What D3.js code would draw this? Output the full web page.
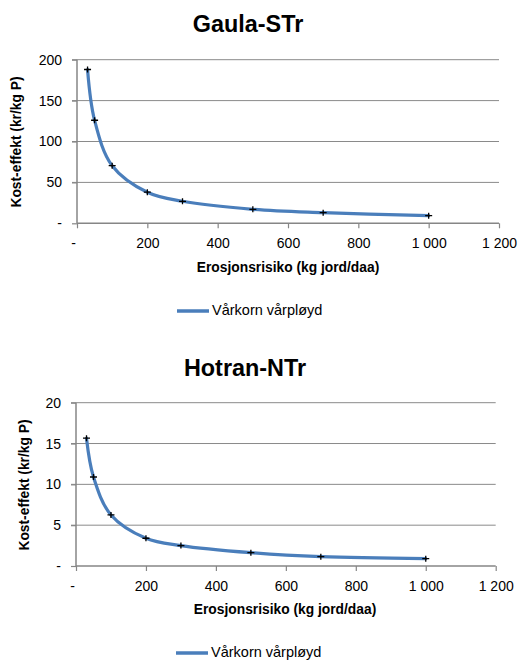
<!DOCTYPE html>
<html>
<head>
<meta charset="utf-8">
<script src="https://cdn.jsdelivr.net/npm/d3@7"></script>
<style>
  body { margin: 0; background: #ffffff; }
  svg { display: block; font-family: "Liberation Sans", Arial, sans-serif; }
</style>
</head>
<body>
<svg id="chart" width="518" height="661"></svg>
<script>
const erosjonsrisiko = [30, 50, 100, 200, 300, 500, 700, 1000];
const gaulaValues = [188, 126, 70.4, 38, 26.9, 17.1, 13, 9.3];
const hotranValues = [15.65, 10.9, 6.25, 3.4, 2.5, 1.63, 1.14, 0.9];
const xTicks = [0, 200, 400, 600, 800, 1000, 1200];
const gaulaTicks = [0, 50, 100, 150, 200];
const hotranTicks = [0, 5, 10, 15, 20];
const seriesName = "Vårkorn vårpløyd";
const xTitle = "Erosjonsrisiko (kg jord/daa)";
const yTitle = "Kost-effekt (kr/kg P)";

const LINE_COLOR = "#4a7ebb";
const GRID_COLOR = "#8a8a8a";
const AXIS_COLOR = "#868686";
const TEXT_COLOR = "#000000";

const svg = d3.select("#chart");

// Norwegian style: space as thousands separator, zero shown as "-"
function formatTick(value) {
  if (value === 0) {
    return "-";
  }
  return d3.format(",")(value).replace(/,/g, " ");
}

function drawPanel(panel) {
  const g = svg.append("g");
  const x = d3.scaleLinear().domain([0, 1200]).range([panel.left, panel.right]);
  const y = d3.scaleLinear().domain([0, panel.yMax]).range([panel.bottom, panel.top]);

  g.append("text")
    .attr("x", panel.titleX)
    .attr("y", panel.titleY)
    .attr("text-anchor", "middle")
    .attr("font-size", 23.4)
    .attr("font-weight", 700)
    .attr("fill", TEXT_COLOR)
    .text(panel.title);

  // horizontal gridlines (tick marks on the left come with them)
  g.append("g")
    .selectAll("line")
    .data(panel.yTicks.filter((v) => v > 0))
    .join("line")
    .attr("x1", panel.left - 5)
    .attr("x2", panel.right)
    .attr("y1", (v) => y(v))
    .attr("y2", (v) => y(v))
    .attr("stroke", GRID_COLOR)
    .attr("stroke-width", 1);

  const yAxis = d3.axisLeft(y)
    .tickValues(panel.yTicks)
    .tickFormat(formatTick)
    .tickSize(5)
    .tickPadding(10);

  const yAxisGroup = g.append("g")
    .attr("transform", `translate(${panel.left},0)`)
    .call(yAxis);

  const xAxis = d3.axisBottom(x)
    .tickValues(xTicks)
    .tickFormat(formatTick)
    .tickSize(5)
    .tickPadding(10);

  const xAxisGroup = g.append("g")
    .attr("transform", `translate(0,${panel.bottom})`)
    .call(xAxis);

  [yAxisGroup, xAxisGroup].forEach((axisGroup) => {
    axisGroup.select(".domain").attr("stroke", AXIS_COLOR).attr("stroke-width", 1.5);
    axisGroup.selectAll(".tick line").attr("stroke", AXIS_COLOR).attr("stroke-width", 1.2);
    axisGroup.selectAll(".tick text")
      .attr("font-size", 14)
      .attr("fill", TEXT_COLOR)
      .attr("font-family", "'Liberation Sans', Arial, sans-serif");
  });
  xAxisGroup.select(".domain").attr("d", `M${panel.left},0H${panel.right}`);
  yAxisGroup.select(".domain").attr("d", `M0,${panel.bottom}V${panel.top}`);
  xAxisGroup.selectAll(".tick text").filter((v) => v === 0).attr("dx", -4);

  g.append("text")
    .attr("x", panel.xTitleX)
    .attr("y", panel.xTitleY)
    .attr("text-anchor", "middle")
    .attr("dominant-baseline", "middle")
    .attr("font-size", 13.8)
    .attr("font-weight", 700)
    .attr("fill", TEXT_COLOR)
    .text(xTitle);

  g.append("text")
    .attr("transform", `translate(${panel.yTitleX},${panel.yTitleY}) rotate(-90)`)
    .attr("text-anchor", "middle")
    .attr("dominant-baseline", "middle")
    .attr("font-size", 13.8)
    .attr("font-weight", 700)
    .attr("fill", TEXT_COLOR)
    .text(yTitle);

  const points = erosjonsrisiko.map((xv, i) => [x(xv), y(panel.values[i])]);

  g.append("path")
    .datum(points)
    .attr("d", d3.line().curve(d3.curveCatmullRom.alpha(0.5)))
    .attr("fill", "none")
    .attr("stroke", LINE_COLOR)
    .attr("stroke-width", 3.2)
    .attr("stroke-linecap", "round");

  g.append("g")
    .selectAll("path")
    .data(points)
    .join("path")
    .attr("d", ([px, py]) => `M${px - 3.5},${py}H${px + 3.5}M${px},${py - 3}V${py + 3}`)
    .attr("stroke", "#000000")
    .attr("stroke-width", 1.3)
    .attr("fill", "none");

  const legend = g.append("g").attr("transform", `translate(${panel.legendX},${panel.legendY})`);
  legend.append("line")
    .attr("x1", 0)
    .attr("x2", 32)
    .attr("stroke", LINE_COLOR)
    .attr("stroke-width", 3.5);
  legend.append("text")
    .attr("x", 35)
    .attr("dominant-baseline", "middle")
    .attr("font-size", 14.5)
    .attr("fill", TEXT_COLOR)
    .text(seriesName);
}

drawPanel({
  title: "Gaula-STr",
  values: gaulaValues,
  yTicks: gaulaTicks,
  yMax: 200,
  left: 77,
  right: 499,
  top: 59.7,
  bottom: 223.3,
  titleX: 248,
  titleY: 32,
  xTitleX: 288,
  xTitleY: 268,
  yTitleX: 17,
  yTitleY: 142,
  legendX: 177,
  legendY: 311,
});

drawPanel({
  title: "Hotran-NTr",
  values: hotranValues,
  yTicks: hotranTicks,
  yMax: 20,
  left: 76,
  right: 495.7,
  top: 402.7,
  bottom: 566,
  titleX: 245,
  titleY: 376,
  xTitleX: 285,
  xTitleY: 610,
  yTitleX: 25,
  yTitleY: 485,
  legendX: 176,
  legendY: 653,
});
</script>
</body>
</html>
